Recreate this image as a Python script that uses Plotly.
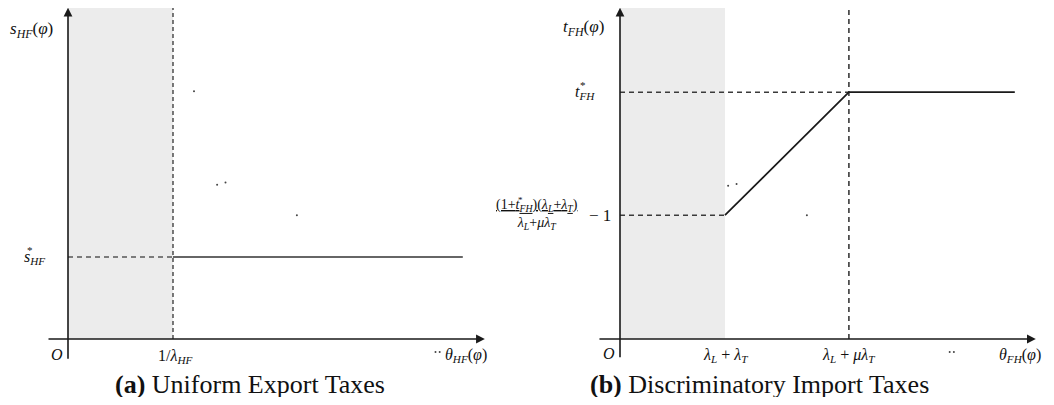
import plotly.graph_objects as go

# ---- panel (a): uniform export taxes ----
a_cut = 1.0            # 1/lambda_HF on the theta axis
a_s_star = 1.0         # s*_HF level
a_x_end = 3.76         # where the s*_HF line stops
a_x_axis = [-0.2, 3.97]
a_y_axis = [-0.26, 4.04]
a_dots_x = [1.2, 1.42, 1.5, 2.18, 3.50, 3.54]
a_dots_y = [3.02, 1.88, 1.91, 1.51, -0.16, -0.16]

# ---- panel (b): discriminatory import taxes ----
b_cut1 = 1.0           # lambda_L + lambda_T
b_cut2 = 2.18          # lambda_L + mu*lambda_T
b_x_end = 3.76
b_low = 1.51           # (1+t*)(lL+lT)/(lL+mu lT) - 1
b_high = 3.01          # t*_FH
b_x_axis = [-0.21, 3.96]
b_y_axis = [-0.24, 4.04]
b_dots_x = [1.03, 1.11, 1.78, 3.14, 3.18]
b_dots_y = [1.87, 1.89, 1.51, -0.16, -0.16]

label_top_y = 3.77     # height of the axis-name labels

SHADE = "#ececec"
INK = "#1a1a1a"
DASH = "#3a3a3a"
FONT = "Liberation Serif"

# the page adds an 8px body margin, so the figure is drawn 16px smaller
W, H = 1038, 389
PX = 105   # pixels per x unit
PY = 82    # pixels per y unit

fig = go.Figure()


def shade(xa, ya, cut, y_axis):
    # shaded region left of the first cut-off
    fig.add_trace(go.Scatter(
        x=[0, cut, cut, 0], y=[0, 0, y_axis[1], y_axis[1]],
        fill="toself", fillcolor=SHADE, line=dict(width=0),
        mode="lines", xaxis=xa, yaxis=ya, hoverinfo="skip"))


shade("x", "y", a_cut, a_y_axis)
shade("x2", "y2", b_cut1, b_y_axis)

# panel (a) lines
fig.add_trace(go.Scatter(x=[a_cut, a_cut], y=[0, a_y_axis[1]], mode="lines",
                         line=dict(color="#333", width=1.3, dash="4px,3px"),
                         xaxis="x", yaxis="y"))
fig.add_trace(go.Scatter(x=[0, a_cut], y=[a_s_star, a_s_star], mode="lines",
                         line=dict(color="#555", width=1.6, dash="5px,4px"),
                         xaxis="x", yaxis="y"))
fig.add_trace(go.Scatter(x=[a_cut, a_x_end], y=[a_s_star, a_s_star], mode="lines",
                         line=dict(color="#333", width=1.7),
                         xaxis="x", yaxis="y"))
fig.add_trace(go.Scatter(x=a_dots_x, y=a_dots_y, mode="markers",
                         marker=dict(size=2, color="#444"), xaxis="x", yaxis="y"))

# panel (b) lines
fig.add_trace(go.Scatter(x=[b_cut2, b_cut2], y=[0, b_y_axis[1]], mode="lines",
                         line=dict(color=DASH, width=1.6, dash="5px,4px"),
                         xaxis="x2", yaxis="y2"))
fig.add_trace(go.Scatter(x=[0, b_cut2], y=[b_high, b_high], mode="lines",
                         line=dict(color=DASH, width=1.5, dash="5px,4px"),
                         xaxis="x2", yaxis="y2"))
fig.add_trace(go.Scatter(x=[0, b_cut1], y=[b_low, b_low], mode="lines",
                         line=dict(color=DASH, width=1.5, dash="5px,4px"),
                         xaxis="x2", yaxis="y2"))
fig.add_trace(go.Scatter(x=[b_cut1, b_cut2, b_x_end], y=[b_low, b_high, b_high],
                         mode="lines", line=dict(color=INK, width=1.7),
                         xaxis="x2", yaxis="y2"))
fig.add_trace(go.Scatter(x=b_dots_x, y=b_dots_y, mode="markers",
                         marker=dict(size=2, color="#444"), xaxis="x2", yaxis="y2"))

# axes with arrow heads
for xa, ya, xr, yr in [("x", "y", a_x_axis, a_y_axis), ("x2", "y2", b_x_axis, b_y_axis)]:
    fig.add_annotation(x=xr[1], y=0, ax=xr[0], ay=0, xref=xa, yref=ya,
                       axref=xa, ayref=ya, text="", showarrow=True,
                       arrowhead=2, arrowsize=1.1, arrowwidth=1.6, arrowcolor=INK)
    fig.add_annotation(x=0, y=yr[1], ax=0, ay=yr[0], xref=xa, yref=ya,
                       axref=xa, ayref=ya, text="", showarrow=True,
                       arrowhead=2, arrowsize=1.1, arrowwidth=1.6, arrowcolor=INK)


def label(text, x, y, xa, ya, size=17, xshift=0, yshift=0):
    fig.add_annotation(x=x, y=y, xref=xa, yref=ya, text=text, showarrow=False,
                       xanchor="center", yanchor="middle",
                       xshift=xshift, yshift=yshift,
                       font=dict(family=FONT, size=size, color="#111"))


# panel (a) labels
label("<i>s<sub>HF</sub></i>(<i>φ</i>)", 0, label_top_y, "x", "y", xshift=-37)
label("<i>s<sub>HF</sub></i>", 0, a_s_star, "x", "y", size=16, xshift=-34)
label("*", 0, a_s_star, "x", "y", size=11, xshift=-38, yshift=7)
label("<i>O</i>", 0, 0, "x", "y", size=16, xshift=-11, yshift=-15)
label("1/<i>λ<sub>HF</sub></i>", a_cut, 0, "x", "y", size=16, xshift=2, yshift=-17)
label("<i>θ<sub>HF</sub></i>(<i>φ</i>)", a_x_axis[1], 0, "x", "y", size=16, xshift=-19, yshift=-16)

# panel (b) labels
label("<i>t<sub>FH</sub></i>(<i>φ</i>)", 0, label_top_y, "x2", "y2", xshift=-37, yshift=2)
label("<i>t<sub>FH</sub></i>", 0, b_high, "x2", "y2", size=16, xshift=-35)
label("*", 0, b_high, "x2", "y2", size=11, xshift=-37, yshift=7)
label("<u>(1+<i>t<sub>FH</sub></i>)(<i>λ<sub>L</sub></i>+<i>λ<sub>T</sub></i>)</u>"
      "<br><i>λ<sub>L</sub></i>+<i>μλ<sub>T</sub></i>",
      0, b_low, "x2", "y2", size=14, xshift=-83, yshift=1)
label("*", 0, b_low, "x2", "y2", size=9, xshift=-100, yshift=15)
label("− 1", 0, b_low, "x2", "y2", size=17, xshift=-20)
label("<i>O</i>", 0, 0, "x2", "y2", size=16, xshift=-11, yshift=-14)
label("<i>λ<sub>L</sub></i> + <i>λ<sub>T</sub></i>", b_cut1, 0, "x2", "y2", size=16, yshift=-16)
label("<i>λ<sub>L</sub></i> + <i>μλ<sub>T</sub></i>", b_cut2, 0, "x2", "y2", size=16, yshift=-16)
label("<i>θ<sub>FH</sub></i>(<i>φ</i>)", b_x_axis[1], 0, "x2", "y2", size=16, xshift=-16, yshift=-16)

# captions
for txt, xc in [("<b>(a)</b> Uniform Export Taxes", 242),
                ("<b>(b)</b> Discriminatory Import Taxes", 751)]:
    fig.add_annotation(x=xc / W, y=(H - 376) / H, xref="paper", yref="paper",
                       text=txt, showarrow=False, xanchor="center", yanchor="middle",
                       font=dict(family=FONT, size=26, color="#111"))

hidden = dict(visible=False, fixedrange=True)
half = (W / 2) / W
fig.update_layout(
    width=W, height=H, autosize=False,
    margin=dict(l=0, r=0, t=0, b=0),
    plot_bgcolor="white", paper_bgcolor="white",
    showlegend=False,
    xaxis=dict(domain=[0, half], range=[-60 / PX, (W / 2 - 60) / PX], **hidden),
    yaxis=dict(domain=[0, 1], range=[(331 - H) / PY, 331 / PY], **hidden),
    xaxis2=dict(domain=[half, 1], range=[(W / 2 - 612) / PX, (W - 612) / PX], **hidden),
    yaxis2=dict(domain=[0, 1], range=[(331 - H) / PY, 331 / PY], anchor="x2", **hidden),
)

fig.write_html("out.html")
